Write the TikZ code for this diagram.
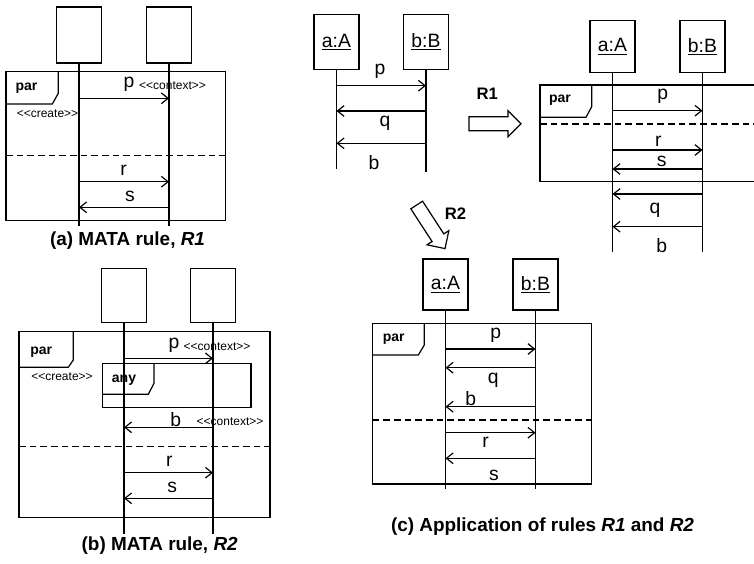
\documentclass[tikz,border=0pt]{standalone}
\usepackage{fontspec}
\setmainfont{Liberation Sans}
% plain family without TeX ligatures, so that << and >> stay as typed
\newfontfamily\stfont{Liberation Sans}
\usetikzlibrary{arrows.meta}

\newcommand\lt{<\kern0pt<}
\newcommand\gt{>\kern0pt>}

\tikzset{
  blockarr/.pic={
    \draw[line width=0.9pt] (0,-7) -- (39,-7) -- (39,-13) -- (52,0) -- (39,13) -- (39,7) -- (0,7) -- cycle;
  }
}

\begin{document}
\begin{tikzpicture}[x=0.75pt,y=-0.75pt,
  obj/.style={draw, line width=0.9pt, minimum width=33.75pt, inner sep=0pt,
              font=\fontsize{14.5}{17}\selectfont},
  life/.style={line width=0.9pt},
  msg/.style={line width=0.9pt, -{Straight Barb[length=5pt,width=8pt,line width=0.9pt]}},
  lbl/.style={inner sep=0pt, font=\fontsize{14.5}{17}\selectfont},
  stereo/.style={inner sep=0pt, font=\stfont\fontsize{9}{11}\selectfont},
  kw/.style={inner sep=0pt, font=\bfseries\fontsize{10.5}{12}\selectfont},
  frm/.style={draw, line width=0.9pt},
  sep/.style={line width=0.9pt, dash pattern=on 5pt off 3pt},
  captxt/.style={inner sep=0pt, font=\bfseries\fontsize{14.2}{17}\selectfont},
  rulelbl/.style={inner sep=0pt, font=\bfseries\fontsize{12.5}{15}\selectfont}
]
\useasboundingbox (0,0) rectangle (754,564);
\clip (0,0) rectangle (754,564);

% ---------------- (a) MATA rule R1 ----------------
\node[obj, minimum height=42pt] (a1) at (79,35) {};
\node[obj, minimum height=42pt] (b1) at (169,35) {};
\coordinate (a1e) at (79,226);
\coordinate (b1e) at (169,226);
\draw[frm] (6,71.7) rectangle (225.3,220.3);
\draw[frm] (58.3,71.7) -- (58.3,93.3) -- (52.3,104) -- (6,104);
\node[kw] (par1) at (26.5,87.7) {par};
\draw[life] (a1) -- (a1e);
\draw[life] (b1) -- (b1e);
\draw[msg] (a1 |- 0,98.3) -- (b1 |- 0,98.3);
\node[lbl] (p1) at (129,84) {p};
\node[stereo] (ctx1) at (172.5,85.5) {\lt context\gt};
\node[stereo] (cr1) at (47.5,114) {\lt create\gt};
\draw[sep] (6,155.3) -- (225.3,155.3);
\draw[msg] (a1 |- 0,181.7) -- (b1 |- 0,181.7);
\node[lbl] (r1) at (123.5,170) {r};
\draw[msg] (b1 |- 0,207.3) -- (a1 |- 0,207.3);
\node[lbl] (s1) at (130,196.7) {s};
\node[captxt] (capa) at (127.5,241) {(a) MATA rule, \textit{R1}};

% ---------------- (b) MATA rule R2 ----------------
\node[obj, minimum height=41pt] (a2) at (124,295.5) {};
\node[obj, minimum height=41pt] (b2) at (213,295.5) {};
\coordinate (a2e) at (124,534);
\coordinate (b2e) at (213,534);
\draw[frm] (19,331.7) rectangle (270,517.7);
\draw[frm] (73.3,331.7) -- (73.3,360) -- (68.3,367.3) -- (19,367.3);
\node[kw] (par2) at (41.3,351.7) {par};
\node[stereo] (cr2) at (62,376.7) {\lt create\gt};
\draw[frm] (102.3,363.3) rectangle (251,407.7);
\draw[frm] (154,363.3) -- (154,383.3) -- (148.3,394.3) -- (102.3,394.3);
\node[kw, anchor=base] (any2) at (124,382.5) {any};
\draw[life] (a2) -- (a2e);
\draw[life] (b2) -- (b2e);
\draw[msg] (a2 |- 0,358.3) -- (b2 |- 0,358.3);
\node[lbl] (p2) at (174,345) {p};
\node[stereo] (ctx2) at (217,346.7) {\lt context\gt};
\draw[msg] (b2 |- 0,427.3) -- (a2 |- 0,427.3);
\node[lbl] (bm2) at (175.7,419.3) {b};
\node[stereo] (ctx3) at (230,421.7) {\lt context\gt};
\draw[sep] (19,446.7) -- (270,446.7);
\draw[msg] (a2 |- 0,472.7) -- (b2 |- 0,472.7);
\node[lbl] (r2) at (169.3,461) {r};
\draw[msg] (b2 |- 0,498.3) -- (a2 |- 0,498.3);
\node[lbl] (s2) at (172.3,487.3) {s};
\node[captxt] (capb) at (159.7,546) {(b) MATA rule, \textit{R2}};

% ---------------- source interaction ----------------
\node[obj, minimum height=41.25pt] (a3) at (336.5,41.8) {\underline{a:A}};
\node[obj, minimum height=41.25pt] (b3) at (426,41.8) {\underline{b:B}};
\coordinate (a3e) at (336.5,168.5);
\coordinate (b3e) at (426,171.5);
\draw[life] (a3) -- (a3e);
\draw[life] (b3) -- (b3e);
\draw[msg] (a3 |- 0,85.7) -- (b3 |- 0,85.7);
\node[lbl] (p3) at (380,71.7) {p};
\draw[msg] (b3 |- 0,111) -- (a3 |- 0,111);
\node[lbl] (q3) at (385,123.3) {q};
\draw[msg] (b3 |- 0,143.3) -- (a3 |- 0,143.3);
\node[lbl] (bm3) at (374,162.3) {b};

% ---------------- rule arrows ----------------
\pic at (469,123.7) {blockarr};
\node[rulelbl] (lr1) at (487.3,94) {R1};
\pic[rotate=-57] at (416.7,205) {blockarr};
\node[rulelbl] (lr2) at (455.5,213.3) {R2};

% ---------------- result of R1 ----------------
\node[obj, minimum height=38.7pt] (a4) at (612.5,46.5) {\underline{a:A}};
\node[obj, minimum height=38.7pt] (b4) at (702.5,46.5) {\underline{b:B}};
\coordinate (a4e) at (612.5,251.7);
\coordinate (b4e) at (702.5,251.7);
\draw[frm] (762,85) -- (540,85) -- (540,181.7) -- (762,181.7);
\draw[frm] (591.7,85) -- (591.7,106.7) -- (586,117.3) -- (540,117.3);
\node[kw] (par4) at (560,100) {par};
\draw[life] (a4) -- (a4e);
\draw[life] (b4) -- (b4e);
\draw[msg] (a4 |- 0,110.7) -- (b4 |- 0,110.7);
\node[lbl] (p4) at (662.7,96.7) {p};
\draw[sep] (540,124) -- (760,124);
\draw[msg] (a4 |- 0,150) -- (b4 |- 0,150);
\node[lbl] (r4) at (658.3,141.7) {r};
\draw[msg] (b4 |- 0,169) -- (a4 |- 0,169);
\node[lbl] (s4) at (661.7,161) {s};
\draw[msg] (b4 |- 0,194) -- (a4 |- 0,194);
\node[lbl] (q4) at (655,210.7) {q};
\draw[msg] (b4 |- 0,226.7) -- (a4 |- 0,226.7);
\node[lbl] (bm4) at (661.7,246) {b};

% ---------------- result of R1 and R2 ----------------
\node[obj, minimum height=38.25pt] (a5) at (445.5,284.5) {\underline{a:A}};
\node[obj, minimum height=38.25pt] (b5) at (535.5,284.5) {\underline{b:B}};
\coordinate (a5e) at (445.5,489.3);
\coordinate (b5e) at (535.5,489.3);
\draw[frm] (372.7,323.3) rectangle (591.7,484);
\draw[frm] (424.3,323.3) -- (424.3,345) -- (418.3,355) -- (372.7,355);
\node[kw] (par5) at (393.7,339) {par};
\draw[life] (a5) -- (a5e);
\draw[life] (b5) -- (b5e);
\draw[msg] (a5 |- 0,349) -- (b5 |- 0,349);
\node[lbl] (p5) at (495.7,335) {p};
\draw[msg] (b5 |- 0,367.7) -- (a5 |- 0,367.7);
\node[lbl] (q5) at (493.3,380) {q};
\draw[msg] (b5 |- 0,406.7) -- (a5 |- 0,406.7);
\node[lbl] (bm5) at (470.7,398.3) {b};
\draw[sep] (372.7,420) -- (591.7,420);
\draw[msg] (a5 |- 0,432.7) -- (b5 |- 0,432.7);
\node[lbl] (r5) at (485.7,442.7) {r};
\draw[msg] (b5 |- 0,458.3) -- (a5 |- 0,458.3);
\node[lbl] (s5) at (494,475) {s};
\node[captxt] (capc) at (542.5,527) {(c) Application of rules \textit{R1} and \textit{R2}};
\end{tikzpicture}
\end{document}
